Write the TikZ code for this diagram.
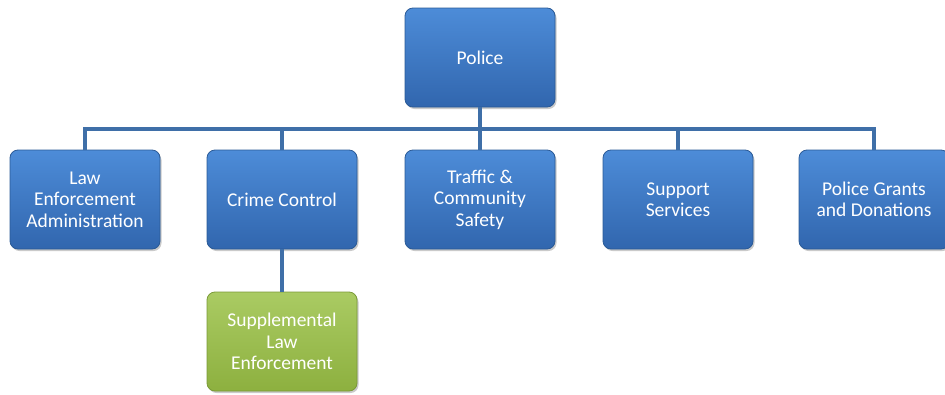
\documentclass[tikz,border=0pt]{standalone}
\usepackage{fontspec}
\setmainfont{Carlito}
\usetikzlibrary{shadows}
\definecolor{bluetop}{HTML}{4D8CD8}
\definecolor{bluebot}{HTML}{3166AE}
\definecolor{blueedge}{HTML}{2A5A96}
\definecolor{greentop}{HTML}{AACB63}
\definecolor{greenbot}{HTML}{8DB03F}
\definecolor{greenedge}{HTML}{7A9A38}
\definecolor{linecol}{HTML}{3F6FA8}
\tikzset{
  x=1pt,y=-1pt,
  box/.style={draw=blueedge,line width=0.8pt,rounded corners=8pt,
    top color=bluetop,bottom color=bluebot,
    minimum width=150pt,minimum height=99pt,
    text=white,align=center,font=\fontsize{19.5}{21.5}\selectfont,
    inner sep=2pt,
    drop shadow={shadow xshift=1.5pt,shadow yshift=-2pt,opacity=0.35,fill=black!60}},
  gbox/.style={box,draw=greenedge,top color=greentop,bottom color=greenbot},
  conn/.style={draw=linecol,line width=4pt}
}
\begin{document}
\begin{tikzpicture}
\useasboundingbox (0,0) rectangle (945,394);
\node[box] (police) at (480,57.5) {Police};
\node[box] (lea) at (85,199.5) {Law\\Enforcement\\Administration};
\node[box] (cc) at (282,199.5) {Crime Control};
\node[box] (tcs) at (480,199.5) {Traffic \&\\Community\\Safety};
\node[box] (ss) at (678,199.5) {Support\\Services};
\node[box] (pgd) at (874,199.5) {Police Grants\\and Donations};
\node[gbox] (sle) at (282,341.5) {Supplemental\\Law\\Enforcement};
\coordinate (bus) at (480,129);
\begin{scope}[on background layer/.try]
\draw[conn] (police.south) -- (bus);
\draw[conn] (lea.north) |- (bus) -| (pgd.north);
\draw[conn] (cc.north) -- (cc.north |- bus);
\draw[conn] (tcs.north) -- (bus);
\draw[conn] (ss.north) -- (ss.north |- bus);
\draw[conn] (cc.south) -- (sle.north);
\end{scope}
\end{tikzpicture}
\end{document}
